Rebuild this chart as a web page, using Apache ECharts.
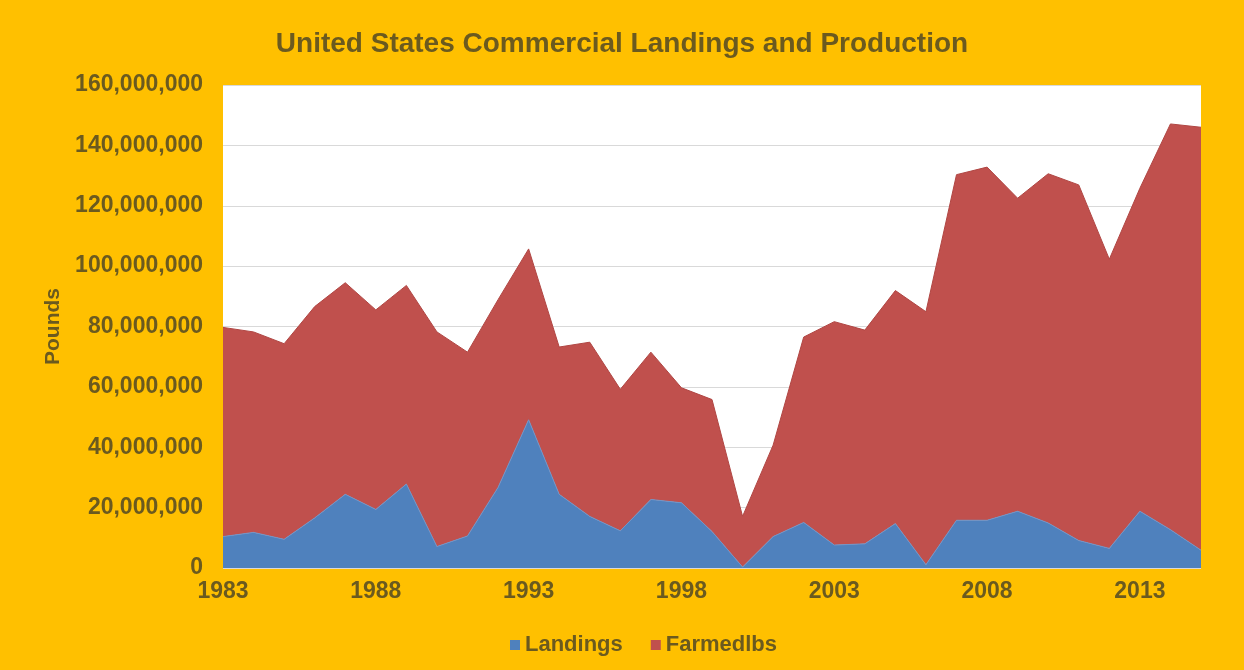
<!DOCTYPE html>
<html>

<head>
    <meta charset="utf-8">
    <title>United States Commercial Landings and Production</title>
    <style>
        html, body { margin: 0; padding: 0; background: #FFC000; }
    </style>
</head>

<body>
    <div id="main" style="width: 1244px;height:670px;"></div>
    <script src="https://cdn.jsdelivr.net/npm/echarts@6/dist/echarts.min.js"></script>
    <script>
    // values in pounds (millions)
    var years = [];
    for (var y = 1983; y <= 2015; y++) years.push(String(y));
    var landingsM = [10.4, 11.8, 9.5, 16.6, 24.4, 19.4, 27.8, 7.1, 10.6, 26.7, 49.1, 24.4, 17.1, 12.3, 22.7, 21.6,
        12.1, 0.3, 10.4, 15.1, 7.6, 8.0, 14.7, 1.1, 15.8, 15.8, 18.8, 14.9, 9.1, 6.5, 18.8, 12.7, 5.9];
    var totalM = [79.7, 78.2, 74.3, 86.6, 94.5, 85.5, 93.6, 78.2, 71.5, 88.9, 105.7, 73.2, 74.8, 59.2, 71.5, 59.7,
        55.8, 17.1, 40.7, 76.5, 81.6, 78.8, 91.9, 84.9, 130.3, 132.8, 122.5, 130.6, 126.9, 102.3, 125.8, 147.1, 146.0];

    var landings = landingsM.map(function(v) { return Math.round(v * 1e6); });
    var farmed = totalM.map(function(v, i) { return Math.round((v - landingsM[i]) * 1e6); });

    var textColor = '#6b5a1f';
    var font = 'Liberation Sans';
    var myChart = echarts.init(document.getElementById('main'));
    var option = {
        backgroundColor: '#FFC000',
        animation: false,
        title: {
            text: 'United States Commercial Landings and Production',
            left: 'center',
            top: 25,
            textStyle: { color: textColor, fontFamily: font, fontWeight: 'bold', fontSize: 28 }
        },
        legend: {
            bottom: 9,
            left: 505,
            itemWidth: 10,
            itemHeight: 10,
            itemGap: 28,
            icon: 'rect',
            textStyle: { color: textColor, fontFamily: font, fontWeight: 'bold', fontSize: 22 },
            data: ['Landings', 'Farmedlbs']
        },
        grid: { left: 223, right: 43, top: 85, bottom: 102, backgroundColor: '#ffffff', show: true, borderWidth: 0 },
        xAxis: {
            type: 'category',
            data: years,
            boundaryGap: false,
            axisLine: { show: false },
            axisTick: { show: false },
            axisLabel: {
                interval: 4,
                color: textColor,
                fontFamily: font,
                fontWeight: 'bold',
                fontSize: 23,
                margin: 12
            }
        },
        yAxis: {
            type: 'value',
            name: 'Pounds',
            nameLocation: 'middle',
            nameGap: 159,
            nameTextStyle: { color: textColor, fontFamily: font, fontWeight: 'bold', fontSize: 21 },
            min: 0,
            max: 160000000,
            interval: 20000000,
            axisLine: { show: false },
            axisTick: { show: false },
            splitLine: { lineStyle: { color: '#d9d9d9', width: 1 } },
            axisLabel: {
                color: textColor,
                fontFamily: font,
                fontWeight: 'bold',
                fontSize: 23,
                margin: 20,
                formatter: function(v) { return v.toLocaleString('en-US'); }
            }
        },
        series: [{
            name: 'Landings',
            type: 'line',
            stack: 'total',
            data: landings,
            symbol: 'none',
            itemStyle: { color: '#4F81BD' },
            lineStyle: { color: '#6f95c8', width: 1 },
            areaStyle: { color: '#4F81BD', opacity: 1 }
        }, {
            name: 'Farmedlbs',
            type: 'line',
            stack: 'total',
            data: farmed,
            symbol: 'none',
            itemStyle: { color: '#C0504D' },
            lineStyle: { color: '#b04643', width: 1 },
            areaStyle: { color: '#C0504D', opacity: 1 }
        }]
    };
    myChart.setOption(option);
    </script>
</body>

</html>
